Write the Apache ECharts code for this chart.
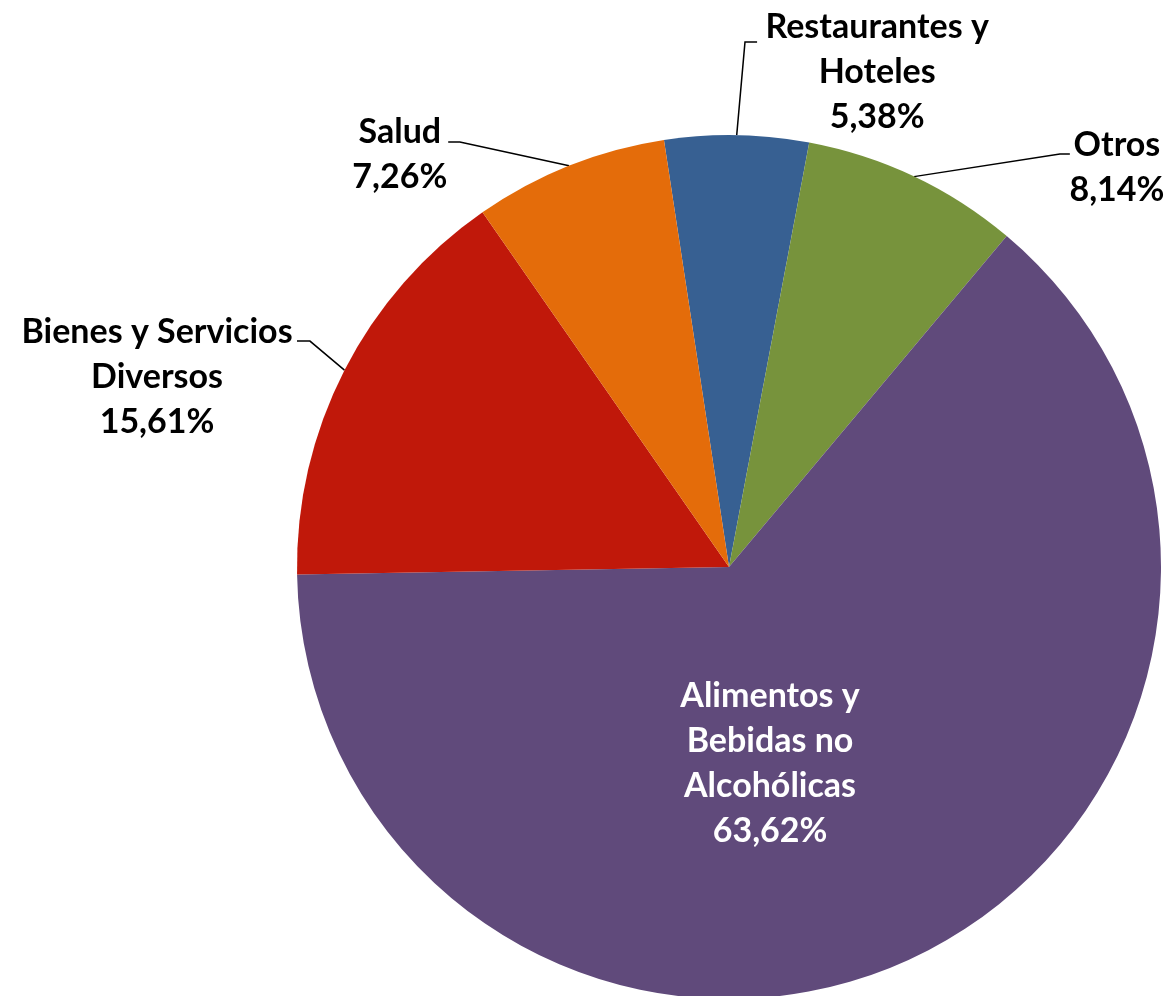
<!DOCTYPE html>
<html>
<head>
<meta charset="utf-8">
<script src="https://cdn.jsdelivr.net/npm/echarts@6/dist/echarts.min.js"></script>
<style>
html,body{margin:0;padding:0;background:#fff;}
#chart{width:1168px;height:996px;}
</style>
</head>
<body>
<div id="chart"></div>
<script>
// Data (clockwise from top)
const categories = ['Restaurantes y\nHoteles', 'Otros', 'Alimentos y\nBebidas no\nAlcohólicas', 'Bienes y Servicios\nDiversos', 'Salud'];
const values = [5.38, 8.14, 63.62, 15.61, 7.26];
const colors = ['#376092', '#77933c', '#604a7b', '#c0180a', '#e46c0a'];

// Label placement relative to pie centre, in units of radius
const labelOffsets = [[0.343, -1.146], [0.898, -0.924], [0.095, 0.454], [-1.324, -0.440], [-0.762, -0.954]];
const elbowOffsets = [[[0.037, -1.215], [0.065, -1.215]], [[0.766, -0.956], [0.789, -0.956]], null, [[-0.970, -0.523], [-1.000, -0.523]], [[-0.623, -0.984], [-0.650, -0.984]]];

const chart = echarts.init(document.getElementById('chart'), null, {renderer: 'canvas'});
const W = 1168, H = 996;
const CX = 729, CY = 567, R = 432;
const startDeg = 8.66; // start of first slice, degrees counterclockwise from top
const total = values.reduce((a, b) => a + b, 0);
const midAngles = [];
{
  let acc = -startDeg;
  values.forEach(v => { const a = v / total * 360; midAngles.push(acc + a / 2); acc += a; });
}
const fmt = v => v.toFixed(2).replace('.', ',') + '%';

chart.setOption({
  backgroundColor: '#ffffff',
  animation: false,
  series: [{
    type: 'pie',
    center: [CX / W * 100 + '%', CY / H * 100 + '%'],
    radius: R,
    startAngle: 90 + startDeg,
    clockwise: true,
    avoidLabelOverlap: false,
    itemStyle: {borderWidth: 0},
    data: categories.map((c, i) => ({
      name: c, value: values[i], itemStyle: {color: colors[i]},
      label: i === 2 ? {position: 'inside', color: '#ffffff'} : {position: 'outside', color: '#000000'},
      labelLine: {show: i !== 2}
    })),
    label: {
      formatter: p => p.name + '\n' + fmt(p.value),
      fontFamily: 'Lato',
      fontWeight: 'bold',
      fontSize: 34,
      lineHeight: 45,
      align: 'center'
    },
    labelLine: {lineStyle: {color: '#000000', width: 1.5}, length: 20, length2: 10},
    emphasis: {disabled: true},
    labelLayout: function (params) {
      const i = params.dataIndex;
      const off = labelOffsets[i];
      const res = {
        x: CX + off[0] * R,
        y: CY + off[1] * R,
        align: 'center',
        verticalAlign: 'middle'
      };
      if (elbowOffsets[i]) {
        const a = midAngles[i] * Math.PI / 180;
        res.labelLinePoints = [
          [CX + Math.sin(a) * R, CY - Math.cos(a) * R],
          [CX + elbowOffsets[i][0][0] * R, CY + elbowOffsets[i][0][1] * R],
          [CX + elbowOffsets[i][1][0] * R, CY + elbowOffsets[i][1][1] * R]
        ];
      }
      return res;
    }
  }]
});
</script>
</body>
</html>
